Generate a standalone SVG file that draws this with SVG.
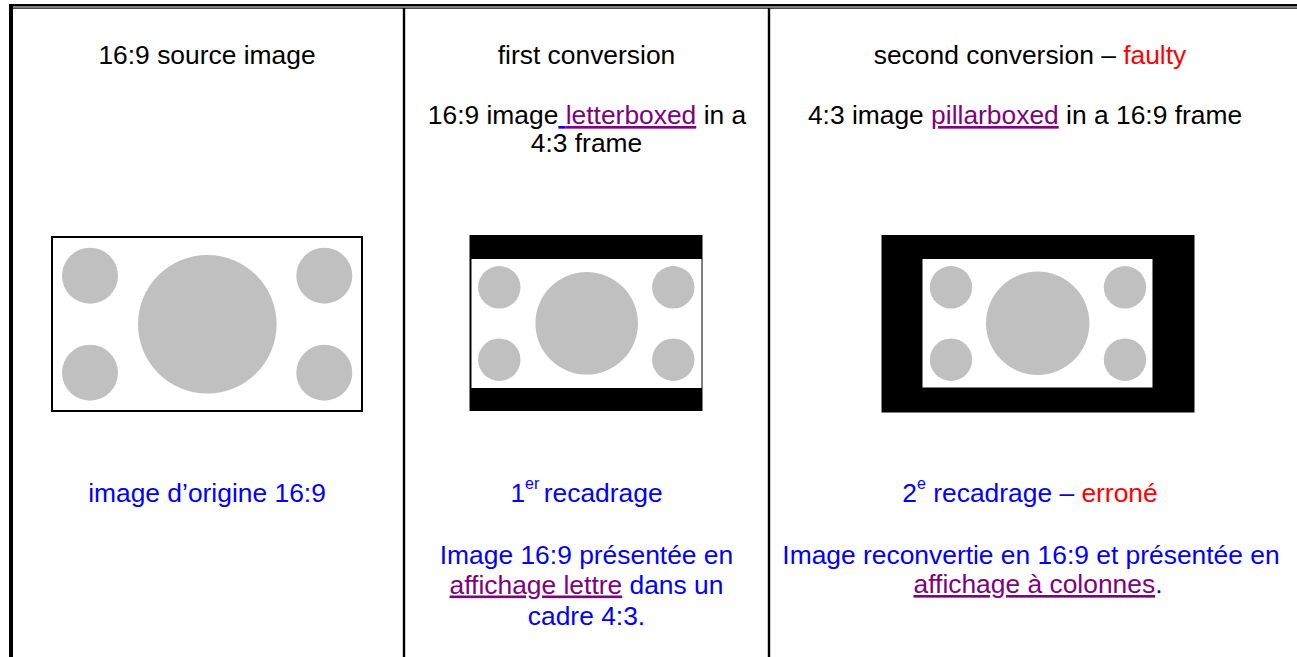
<svg xmlns="http://www.w3.org/2000/svg" width="1297" height="657" viewBox="0 0 1297 657">
  <style>
    text { font-family: "Liberation Sans", Arial, sans-serif; font-size: 26.4px; text-anchor: middle; }
    .k { fill: #000000; }
    .b { fill: #0000FF; }
    .r { fill: #FF0000; }
    .p { fill: #800080; }
    .u { text-decoration: underline; }
    .sup { font-size: 16px; }
    .dot { fill: #C0C0C0; }
  </style>
  <rect x="0" y="0" width="1297" height="657" fill="#FFFFFF"/>
  <g id="table">
    <rect x="9" y="4" width="1288" height="2.5" fill="#000"/>
    <rect x="13" y="7.5" width="1284" height="1.2" fill="#000"/>
    <rect x="9" y="4" width="4" height="653" fill="#000"/>
    <rect x="402.8" y="8" width="2.4" height="649" fill="#000"/>
    <rect x="767.8" y="8" width="2.4" height="649" fill="#000"/>
  </g>
  <g id="col-source">
    <text x="207" y="64" class="k">16:9 source image</text>
    <g id="img-source">
      <rect x="52" y="237" width="310" height="174" fill="#FFFFFF" stroke="#000" stroke-width="2"/>
      <circle class="dot" cx="90" cy="275.7" r="28"/>
      <circle class="dot" cx="90" cy="372.7" r="28"/>
      <circle class="dot" cx="324.3" cy="275.7" r="28"/>
      <circle class="dot" cx="324.3" cy="372.7" r="28"/>
      <circle class="dot" cx="207.3" cy="324.3" r="69.3"/>
    </g>
    <text x="207" y="502" class="b">image d’origine 16:9</text>
  </g>
  <g id="col-first">
    <text x="586.5" y="64" class="k">first conversion</text>
    <text x="587" y="124" class="k">16:9 image<tspan class="b u"> </tspan><tspan class="p u">letterboxed</tspan> in a</text>
    <text x="586.5" y="152" class="k">4:3 frame</text>
    <g id="img-first">
      <rect x="469.5" y="235" width="233" height="176" fill="#000"/>
      <rect x="471.5" y="259" width="230" height="129" fill="#FFFFFF"/>
      <circle class="dot" cx="499.3" cy="287.3" r="21.2"/>
      <circle class="dot" cx="499.3" cy="359.7" r="21.2"/>
      <circle class="dot" cx="673.3" cy="287.3" r="21.2"/>
      <circle class="dot" cx="673.3" cy="359.7" r="21.2"/>
      <circle class="dot" cx="586.7" cy="323.3" r="51.3"/>
    </g>
    <text x="586.5" y="502" class="b">1<tspan class="sup" dy="-13">er </tspan><tspan dy="13">recadrage</tspan></text>
    <text x="586.5" y="564" class="b">Image 16:9 présentée en</text>
    <text x="586.5" y="593.5" class="b"><tspan class="p u">affichage lettre</tspan> dans un</text>
    <text x="586.5" y="624.5" class="b">cadre 4:3.</text>
  </g>
  <g id="col-second">
    <text x="1030" y="64" class="k">second conversion – <tspan class="r">faulty</tspan></text>
    <text x="1025" y="124" class="k">4:3 image <tspan class="p u">pillarboxed</tspan> in a 16:9 frame</text>
    <g id="img-second">
      <rect x="881.5" y="235" width="313" height="177.5" fill="#000"/>
      <rect x="922.5" y="259" width="230" height="128.5" fill="#FFFFFF"/>
      <circle class="dot" cx="951" cy="287.3" r="21.2"/>
      <circle class="dot" cx="951" cy="359.7" r="21.2"/>
      <circle class="dot" cx="1125" cy="287.3" r="21.2"/>
      <circle class="dot" cx="1125" cy="359.7" r="21.2"/>
      <circle class="dot" cx="1037.7" cy="323.3" r="51.7"/>
    </g>
    <text x="1030" y="502" class="b">2<tspan class="sup" dy="-13">e</tspan><tspan dy="13"> recadrage – </tspan><tspan class="r">erroné</tspan></text>
    <text x="1031" y="564" class="b">Image reconvertie en 16:9 et présentée en</text>
    <text x="1038" y="593" class="b"><tspan class="p u">affichage à colonnes</tspan>.</text>
  </g>
</svg>
